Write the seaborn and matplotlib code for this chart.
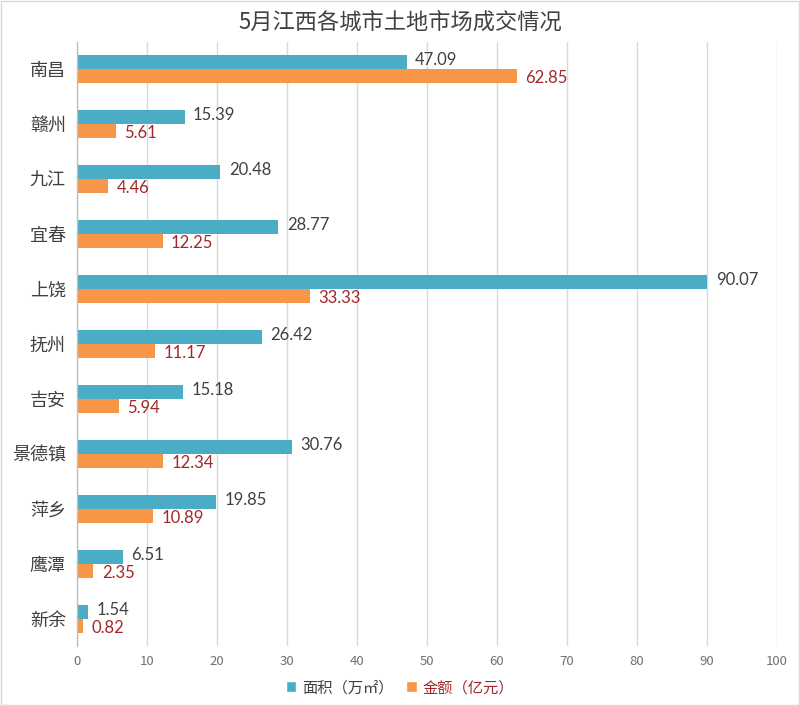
import matplotlib
matplotlib.use("Agg")
import matplotlib.pyplot as plt
import seaborn as sns
import pandas as pd
from matplotlib.patches import Patch

cities = ["南昌", "赣州", "九江", "宜春", "上饶", "抚州", "吉安", "景德镇", "萍乡", "鹰潭", "新余"]
area = [47.09, 15.39, 20.48, 28.77, 90.07, 26.42, 15.18, 30.76, 19.85, 6.51, 1.54]
amount = [62.85, 5.61, 4.46, 12.25, 33.33, 11.17, 5.94, 12.34, 10.89, 2.35, 0.82]
series = ["面积（万㎡）", "金额（亿元）"]
title = "5月江西各城市土地市场成交情况"
xticks = [0, 10, 20, 30, 40, 50, 60, 70, 80, 90, 100]

df = pd.DataFrame({
    "city": cities * 2,
    "value": area + amount,
    "series": [series[0]] * len(cities) + [series[1]] * len(cities),
})

sns.set_style("white")
plt.rcParams["font.family"] = ["Noto Sans CJK SC", "DejaVu Sans"]

fig = plt.figure(figsize=(8, 7.06), dpi=100)
ax = fig.add_axes([0.09625, 0.0843, 0.875, 0.8569])

blue = "#4BACC6"
orange = "#F79646"
sns.barplot(data=df, y="city", x="value", hue="series", order=cities,
            hue_order=series, palette=[blue, orange], orient="h",
            width=0.51, ax=ax, legend=False, saturation=1, linewidth=0)

ax.set_xlim(0, 100)
ax.set_xticks(xticks)
ax.set_xticklabels([str(t) for t in xticks], fontsize=9.5, color="#707070")
ax.tick_params(axis="x", length=0, pad=6)
ax.tick_params(axis="y", length=0, pad=8)
for lab in ax.get_yticklabels():
    lab.set_fontsize(13)
    lab.set_color("#404040")
ax.set_xlabel("")
ax.set_ylabel("")
ax.grid(axis="x", color="#D9D9D9", linewidth=1)
ax.set_axisbelow(True)
for s in ["top", "right", "bottom"]:
    ax.spines[s].set_visible(False)
ax.spines["left"].set_color("#BFBFBF")
ax.spines["left"].set_linewidth(1)

label_colors = ["#404040", "#A5272A"]
offsets = [1.5, -1.5]
for cont, col, dy in zip(ax.containers, label_colors, offsets):
    anns = ax.bar_label(cont, labels=[f"{v:.2f}" for v in cont.datavalues],
                        padding=6, fontsize=12, color=col,
                        family=["Lato", "DejaVu Sans"])
    for a in anns:
        a.xyann = (a.xyann[0], a.xyann[1] + dy)

fig.text(0.5, 0.968, title, ha="center", va="center", fontsize=16, color="#404040")

handles = [Patch(facecolor=blue), Patch(facecolor=orange)]
leg = fig.legend(handles, series, loc="center", bbox_to_anchor=(0.5, 0.026),
                 ncol=2, frameon=False, fontsize=11, handlelength=0.7,
                 handleheight=0.7, columnspacing=0.8, handletextpad=0.4)
leg.get_texts()[0].set_color("#404040")
leg.get_texts()[1].set_color("#A5272A")

fig.patches.append(plt.Rectangle((0.001, 0.001), 0.998, 0.998, transform=fig.transFigure,
                                 fill=False, edgecolor="#D9D9D9", linewidth=1))
fig.savefig("out.png", dpi=100)
